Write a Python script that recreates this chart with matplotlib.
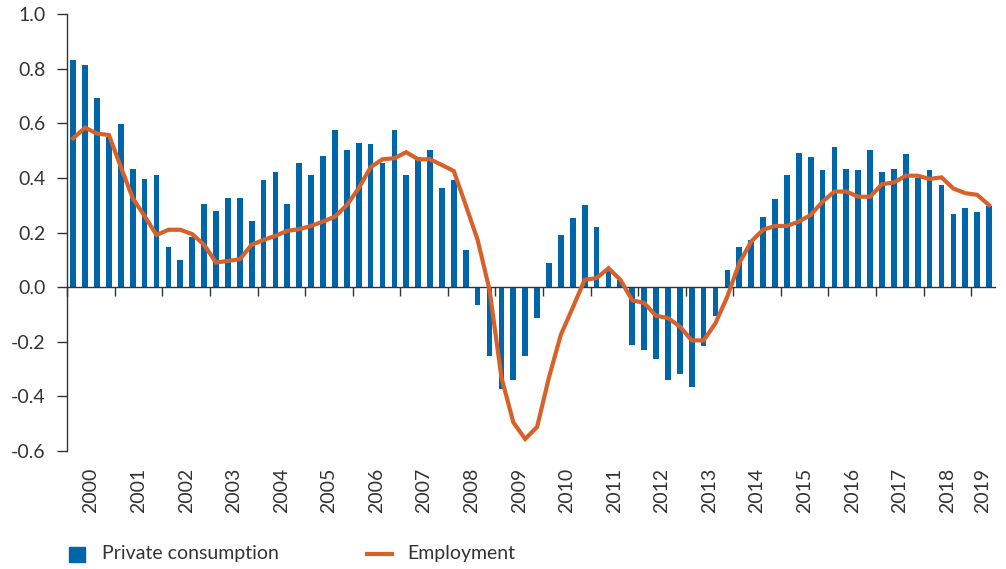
import matplotlib.pyplot as plt
import matplotlib.transforms as mtransforms
from matplotlib.patches import Rectangle
from matplotlib.lines import Line2D
import numpy as np

plt.rcParams['font.family'] = ['Lato', 'DejaVu Sans']

# quarterly data, 2000Q1 .. 2019Q2
years = [str(y) for y in range(2000, 2020)]

private_consumption = [
    0.832, 0.813, 0.693, 0.550,    # 2000
    0.598, 0.433, 0.396, 0.411,    # 2001
    0.148, 0.100, 0.185, 0.305,    # 2002
    0.279, 0.327, 0.327, 0.243,    # 2003
    0.393, 0.422, 0.305, 0.455,    # 2004
    0.411, 0.480, 0.575, 0.502,    # 2005
    0.528, 0.524, 0.456, 0.575,    # 2006
    0.410, 0.477, 0.502, 0.363,    # 2007
    0.392, 0.137, -0.065, -0.251,  # 2008
    -0.372, -0.339, -0.251, -0.112,  # 2009
    0.089, 0.191, 0.253, 0.301,    # 2010
    0.221, 0.060, 0.027, -0.213,   # 2011
    -0.232, -0.262, -0.339, -0.319,  # 2012
    -0.367, -0.217, -0.107, 0.063,   # 2013
    0.148, 0.172, 0.257, 0.323,    # 2014
    0.411, 0.491, 0.477, 0.429,    # 2015
    0.513, 0.433, 0.429, 0.502,    # 2016
    0.422, 0.433, 0.488, 0.400,    # 2017
    0.429, 0.374, 0.268, 0.290,    # 2018
    0.275, 0.297,                  # 2019
]

employment = [
    0.545, 0.584, 0.562, 0.557,
    0.440, 0.326, 0.260, 0.191,
    0.210, 0.210, 0.194, 0.155,
    0.090, 0.096, 0.102, 0.155,
    0.173, 0.188, 0.206, 0.212,
    0.224, 0.240, 0.258, 0.300,
    0.362, 0.439, 0.468, 0.472,
    0.494, 0.468, 0.468, 0.447,
    0.425, 0.300, 0.173, -0.010,
    -0.330, -0.495, -0.556, -0.512,
    -0.330, -0.174, -0.075, 0.027,
    0.033, 0.069, 0.027, -0.048,
    -0.058, -0.105, -0.113, -0.144,
    -0.195, -0.195, -0.132, -0.034,
    0.088, 0.167, 0.210, 0.224,
    0.224, 0.240, 0.264, 0.313,
    0.350, 0.350, 0.331, 0.331,
    0.377, 0.383, 0.408, 0.408,
    0.396, 0.402, 0.361, 0.344,
    0.338, 0.300,
]

y_ticks = [1.0, 0.8, 0.6, 0.4, 0.2, 0.0, -0.2, -0.4, -0.6]

blue = '#0065a9'
orange = '#d8612a'
txt = '#333333'
fs = 14

n = len(private_consumption)
x = np.arange(n) + 0.5

fig = plt.figure(figsize=(10.06, 5.69), dpi=100)
ax = fig.add_axes([67.3 / 1006, 1 - 451 / 569, (995 - 67.3) / 1006, 437 / 569])

ax.bar(x, private_consumption, width=0.48, color=blue, zorder=2)
ax.plot(x, employment, color=orange, lw=3, solid_joinstyle='miter', zorder=3)

ax.set_xlim(0, n)
ax.set_ylim(-0.6, 1.0)

# y axis
ax.set_yticks(y_ticks)
ax.set_yticklabels([f'{v:.1f}' for v in y_ticks])
ax.tick_params(axis='y', length=7, width=1, color=txt, pad=8.5,
               labelsize=fs, labelcolor=txt)

# x axis sits on zero, ticks at year boundaries
ax.spines['bottom'].set_position(('data', 0))
ax.set_xticks(np.arange(0, n, 4))
ax.set_xticklabels([])
ax.tick_params(axis='x', length=6.5, width=1, color=txt)
for s in ['top', 'right']:
    ax.spines[s].set_visible(False)
for s in ['left', 'bottom']:
    ax.spines[s].set_color(txt)
    ax.spines[s].set_linewidth(1)

# year labels under the plot
trans = mtransforms.blended_transform_factory(ax.transData, ax.transAxes)
for i, yr in enumerate(years):
    span = min(4, n - 4 * i)
    ax.text(4 * i + span / 2, -17 / 437, yr, rotation=90, ha='center', va='top',
            fontsize=fs, color=txt, transform=trans)

# legend
fig.add_artist(Rectangle((69 / 1006, 1 - 562 / 569), 16 / 1006, 15 / 569,
                         transform=fig.transFigure, color=blue))
fig.text(102 / 1006, 1 - 554 / 569, 'Private consumption', va='center',
         fontsize=fs, color=txt)
fig.add_artist(Line2D([367 / 1006, 392 / 1006], [1 - 554 / 569] * 2,
                      transform=fig.transFigure, color=orange, lw=3))
fig.text(407 / 1006, 1 - 554 / 569, 'Employment', va='center',
         fontsize=fs, color=txt)

plt.savefig('out.png', dpi=100)
